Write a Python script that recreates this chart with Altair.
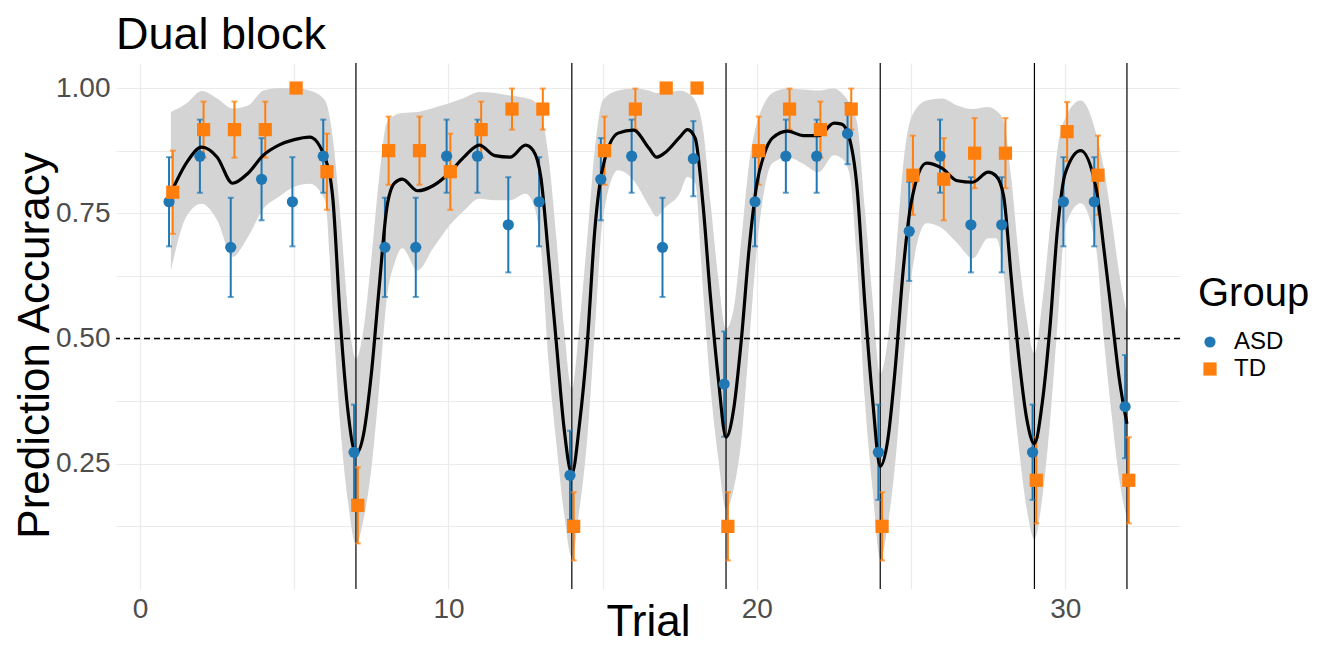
import altair as alt
import pandas as pd

FONT = "Liberation Sans"

trials = list(range(1, 33))
asd_acc = [0.773, 0.864, 0.682, 0.818, 0.773, 0.864, 0.273, 0.682, 0.682, 0.864,
           0.864, 0.727, 0.773, 0.227, 0.818, 0.864, 0.682, 0.859, 0.409, 0.773,
           0.864, 0.864, 0.909, 0.273, 0.714, 0.864, 0.727, 0.727, 0.273, 0.773,
           0.773, 0.364]
asd_lo = [0.684, 0.791, 0.583, 0.736, 0.684, 0.791, 0.178, 0.583, 0.583, 0.791,
          0.791, 0.632, 0.684, 0.138, 0.736, 0.791, 0.583, 0.784, 0.304, 0.684,
          0.791, 0.791, 0.848, 0.178, 0.615, 0.791, 0.632, 0.632, 0.178, 0.684,
          0.684, 0.261]
asd_hi = [0.862, 0.937, 0.781, 0.900, 0.862, 0.937, 0.368, 0.781, 0.781, 0.937,
          0.937, 0.822, 0.862, 0.316, 0.900, 0.937, 0.781, 0.934, 0.514, 0.862,
          0.937, 0.937, 0.970, 0.368, 0.813, 0.937, 0.822, 0.822, 0.368, 0.862,
          0.862, 0.467]
td_acc = [0.792, 0.917, 0.917, 0.917, 1.000, 0.833, 0.167, 0.875, 0.875, 0.833,
          0.917, 0.958, 0.958, 0.125, 0.875, 0.958, 1.000, 1.000, 0.125, 0.875,
          0.958, 0.917, 0.958, 0.125, 0.826, 0.818, 0.870, 0.870, 0.217, 0.913,
          0.826, 0.217]
td_lo = [0.709, 0.861, 0.861, 0.861, 1.000, 0.757, 0.091, 0.807, 0.807, 0.757,
         0.861, 0.917, 0.917, 0.057, 0.807, 0.917, 1.000, 1.000, 0.057, 0.807,
         0.917, 0.861, 0.917, 0.057, 0.747, 0.736, 0.800, 0.800, 0.131, 0.854,
         0.747, 0.131]
td_hi = [0.875, 0.973, 0.973, 0.973, 1.000, 0.909, 0.243, 0.943, 0.943, 0.909,
         0.973, 0.999, 0.999, 0.193, 0.943, 0.999, 1.000, 1.000, 0.193, 0.943,
         0.999, 0.973, 0.999, 0.193, 0.905, 0.900, 0.940, 0.940, 0.303, 0.972,
         0.905, 0.303]

smooth_t = [1.0, 1.5, 2.0, 2.5, 3.0, 3.5, 4.0, 4.5, 5.0, 5.5, 6.0, 6.25, 6.5, 6.75,
            7.0, 7.25, 7.5, 7.75, 8.0, 8.25, 8.5, 9.0, 9.5, 10.0, 10.5, 11.0, 11.5,
            12.0, 12.5, 12.75, 13.0, 13.25, 13.5, 13.75, 14.0, 14.25, 14.5, 14.75,
            15.0, 15.5, 16.0, 16.5, 16.75, 17.0, 17.5, 17.75, 18.0, 18.25, 18.5,
            18.75, 19.0, 19.25, 19.5, 19.75, 20.0, 20.25, 20.5, 21.0, 21.5, 22.0,
            22.5, 22.75, 23.0, 23.25, 23.5, 23.75, 24.0, 24.25, 24.5, 24.75, 25.0,
            25.5, 26.0, 26.5, 27.0, 27.5, 27.75, 28.0, 28.25, 28.5, 28.75, 29.0,
            29.25, 29.5, 29.75, 30.0, 30.5, 31.0, 31.25, 31.5, 31.75, 32.0]
smooth_fit = [0.79, 0.85, 0.882, 0.862, 0.81, 0.83, 0.866, 0.886, 0.897, 0.902, 0.86,
              0.78, 0.53, 0.35, 0.27, 0.31, 0.43, 0.60, 0.76, 0.81, 0.818, 0.795,
              0.805, 0.829, 0.862, 0.886, 0.865, 0.862, 0.886, 0.875, 0.82, 0.66,
              0.49, 0.32, 0.23, 0.33, 0.49, 0.72, 0.84, 0.91, 0.916, 0.88, 0.862,
              0.87, 0.902, 0.917, 0.90, 0.77, 0.58, 0.42, 0.303, 0.36, 0.50, 0.68,
              0.809, 0.87, 0.90, 0.914, 0.905, 0.905, 0.93, 0.928, 0.90, 0.80, 0.57,
              0.38, 0.245, 0.30, 0.45, 0.64, 0.77, 0.85, 0.84, 0.815, 0.812, 0.832,
              0.825, 0.785, 0.62, 0.46, 0.34, 0.29, 0.37, 0.52, 0.72, 0.83, 0.875,
              0.80, 0.68, 0.55, 0.42, 0.33]
smooth_lo = [0.636, 0.743, 0.769, 0.736, 0.663, 0.703, 0.759, 0.783, 0.803, 0.809,
             0.776, 0.55, 0.32, 0.17, 0.09, 0.14, 0.24, 0.40, 0.58, 0.65, 0.68,
             0.636, 0.68, 0.723, 0.755, 0.779, 0.776, 0.776, 0.789, 0.77, 0.68,
             0.45, 0.29, 0.15, 0.064, 0.16, 0.30, 0.52, 0.736, 0.836, 0.816, 0.765,
             0.743, 0.76, 0.79, 0.823, 0.81, 0.60, 0.40, 0.26, 0.16, 0.20, 0.30,
             0.49, 0.68, 0.80, 0.85, 0.862, 0.849, 0.832, 0.866, 0.86, 0.83, 0.65,
             0.38, 0.20, 0.06, 0.13, 0.26, 0.45, 0.62, 0.73, 0.72, 0.69, 0.66,
             0.70, 0.70, 0.63, 0.43, 0.28, 0.16, 0.10, 0.18, 0.33, 0.53, 0.723,
             0.77, 0.68, 0.50, 0.35, 0.22, 0.14]
smooth_hi = [0.952, 0.969, 0.994, 0.979, 0.959, 0.965, 0.995, 1.0, 1.0, 0.995, 0.975,
             0.90, 0.74, 0.55, 0.46, 0.52, 0.66, 0.82, 0.93, 0.945, 0.95, 0.952,
             0.96, 0.969, 0.98, 0.992, 0.99, 0.985, 0.98, 0.975, 0.95, 0.86, 0.70,
             0.52, 0.40, 0.53, 0.70, 0.88, 0.975, 0.995, 0.999, 0.995, 0.99, 0.99,
             0.995, 0.99, 0.975, 0.92, 0.77, 0.62, 0.52, 0.56, 0.70, 0.85, 0.93,
             0.97, 0.99, 0.999, 0.997, 0.995, 0.999, 0.99, 0.97, 0.93, 0.76, 0.58,
             0.43, 0.50, 0.66, 0.85, 0.94, 0.975, 0.979, 0.965, 0.958, 0.962,
             0.955, 0.935, 0.82, 0.66, 0.54, 0.47, 0.57, 0.72, 0.88, 0.94, 0.975,
             0.91, 0.84, 0.74, 0.63, 0.55]

block_ends = [7, 14, 19, 24, 29, 32]
groups = ["ASD", "TD"]
group_colors = ["#1F77B4", "#FF7F0E"]
group_shapes = ["circle", "square"]
group_sizes = [125, 175]
group_shift = {"ASD": -0.06, "TD": 0.06}

rows = []
for g, acc, lo, hi in [("ASD", asd_acc, asd_lo, asd_hi), ("TD", td_acc, td_lo, td_hi)]:
    for t, a, l, h in zip(trials, acc, lo, hi):
        rows.append({"Trial": t, "Group": g, "acc": a, "lo": l, "hi": h,
                     "shift": group_shift[g]})
pts = pd.DataFrame(rows)
smooth = pd.DataFrame({"Trial": smooth_t, "fit": smooth_fit, "lo": smooth_lo, "hi": smooth_hi})
vlines = pd.DataFrame({"Trial": block_ends})
hline = pd.DataFrame({"y": [0.5]})

x_scale = alt.Scale(domain=[-0.78, 33.72], nice=False, zero=False)
y_scale = alt.Scale(domain=[0.0, 1.05], nice=False, zero=False)

x_axis = alt.Axis(values=[0, 5, 10, 15, 20, 25, 30],
                  labelExpr="datum.value % 10 == 0 ? datum.label : ''",
                  title="Trial", grid=True, ticks=False, domain=False,
                  labelFontSize=28, labelColor="#4D4D4D", labelFont=FONT,
                  labelPadding=6, titleFontSize=44, titleFont=FONT,
                  titleFontWeight="normal", titleColor="#000000", titlePadding=-23)
y_axis = alt.Axis(values=[0.125, 0.25, 0.375, 0.5, 0.625, 0.75, 0.875, 1.0],
                  labelExpr="(datum.value * 4) % 1 == 0 ? format(datum.value, '.2f') : ''",
                  title="Prediction Accuracy", grid=True, ticks=False, domain=False,
                  labelFontSize=28, labelColor="#4D4D4D", labelFont=FONT,
                  labelPadding=6, titleFontSize=44, titleFont=FONT,
                  titleFontWeight="normal", titleColor="#000000", titlePadding=-2,
                  titleY=282)

color_enc = alt.Color("Group:N", scale=alt.Scale(domain=groups, range=group_colors),
                      legend=alt.Legend(title="Group"))
shape_enc = alt.Shape("Group:N", scale=alt.Scale(domain=groups, range=group_shapes),
                      legend=alt.Legend(title="Group"))

band = alt.Chart(smooth).mark_area(color="#D4D4D4", interpolate="monotone").encode(
    x=alt.X("Trial:Q", scale=x_scale, axis=x_axis),
    y=alt.Y("lo:Q", scale=y_scale, axis=y_axis),
    y2="hi:Q",
)
line = alt.Chart(smooth).mark_line(color="black", strokeWidth=3.2, interpolate="monotone").encode(
    x=alt.X("Trial:Q", scale=x_scale),
    y=alt.Y("fit:Q", scale=y_scale),
)
vrules = alt.Chart(vlines).mark_rule(color="black", strokeWidth=1.2).encode(
    x=alt.X("Trial:Q", scale=x_scale),
)
hrule = alt.Chart(hline).mark_rule(color="black", strokeWidth=1.5, strokeDash=[6, 4]).encode(
    y=alt.Y("y:Q", scale=y_scale),
)

pbase = alt.Chart(pts).transform_calculate(xp="datum.Trial + datum.shift")

err = pbase.mark_rule(strokeWidth=2).encode(
    x=alt.X("xp:Q", scale=x_scale),
    y=alt.Y("lo:Q", scale=y_scale),
    y2="hi:Q",
    color=color_enc,
)
cap_lo = pbase.mark_tick(orient="horizontal", size=6, thickness=2).encode(
    x=alt.X("xp:Q", scale=x_scale),
    y=alt.Y("lo:Q", scale=y_scale),
    color=color_enc,
)
cap_hi = pbase.mark_tick(orient="horizontal", size=6, thickness=2).encode(
    x=alt.X("xp:Q", scale=x_scale),
    y=alt.Y("hi:Q", scale=y_scale),
    color=color_enc,
)
points = pbase.mark_point(filled=True, opacity=1).encode(
    x=alt.X("xp:Q", scale=x_scale),
    y=alt.Y("acc:Q", scale=y_scale),
    color=color_enc,
    shape=shape_enc,
    size=alt.Size("Group:N", scale=alt.Scale(domain=groups, range=group_sizes), legend=None),
)

chart = alt.layer(band, hrule, vrules, err, cap_lo, cap_hi, line, points).properties(
    width=1064,
    height=526,
    background="white",
    autosize=alt.AutoSizeParams(type="none"),
    padding={"left": 108, "top": 55, "right": 133, "bottom": 58},
    title=alt.Title("Dual block", anchor="start", frame="group", fontSize=45, font=FONT,
                    fontWeight="normal", color="#000000", offset=4),
).configure_view(stroke=None).configure_axis(
    gridColor="#EBEBEB", gridWidth=1.2
).configure_legend(
    orient="none", legendX=1082, legendY=211,
    titleFontSize=40, titleFont=FONT, titleFontWeight="normal", titleColor="#000000",
    labelFontSize=24, labelFont=FONT, labelColor="#000000", labelOffset=12,
    symbolSize=90, symbolStrokeWidth=0, symbolOpacity=1, titlePadding=16, rowPadding=3,
)

chart.save("out.html", embed_options={"renderer": "svg", "actions": False})
